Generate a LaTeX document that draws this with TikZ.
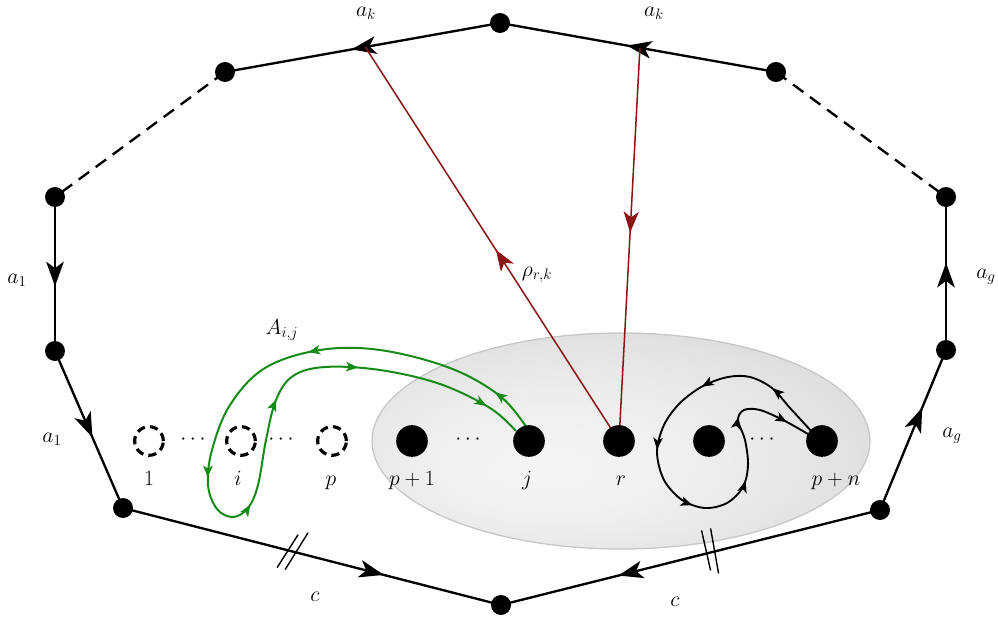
\documentclass[tikz,border=0pt]{standalone}
\usepackage{fix-cm}
\usetikzlibrary{arrows.meta,decorations.markings,calc}
\pgfdeclarelayer{back}
\pgfdeclarelayer{mid}
\pgfsetlayers{back,mid,main}
\definecolor{rdark}{RGB}{140,22,22}
\definecolor{gdark}{RGB}{22,138,22}
\pgfdeclareradialshading{ellsh}{\pgfpoint{-9bp}{-7bp}}{%
  color(0bp)=(gray!8); color(14bp)=(gray!13); color(26bp)=(gray!22); color(36bp)=(gray!32); color(50bp)=(gray!34)}
\tikzset{
  bgtip/.tip={Stealth[length=21pt,width=15pt,inset=5.5pt]},
  rdtip/.tip={Stealth[length=18pt,width=13pt,inset=5pt]},
  smtip/.tip={Stealth[length=10pt,width=8pt,inset=2.5pt]},
}
\begin{document}
\begin{tikzpicture}[x=0.03cm,y=-0.03cm,
  vtx/.style={circle,fill=black,inner sep=0pt,minimum size=0.6cm},
  pt/.style={circle,fill=black,inner sep=0pt,minimum size=0.95cm},
  hole/.style={circle,draw=black,dash pattern=on 7pt off 4.4pt,line width=2.7pt,inner sep=0pt,minimum size=0.86cm},
  lab/.style={font=\fontsize{18.5}{22}\selectfont,inner sep=0pt},
  edgeln/.style={line width=2pt,black},
  dashedge/.style={line width=2pt,black,dash pattern=on 11pt off 7pt},
  amark/.style={decoration={markings,mark=at position #1 with {\arrow{bgtip}}},postaction={decorate}},
  rmark/.style={decoration={markings,mark=at position #1 with {\arrow{rdtip}}},postaction={decorate}},
  redln/.style={line width=1.3pt,rdark},
  tickln/.style={line width=1.2pt,black},
]
\useasboundingbox (0,0) rectangle (998,620);
% polygon vertices
\node[vtx] (T) at (500,23) {};
\node[vtx] (TL) at (225,72) {};
\node[vtx] (TR) at (776,72) {};
\node[vtx] (L1) at (55,197) {};
\node[vtx] (R1) at (946,197) {};
\node[vtx] (L2) at (55,351) {};
\node[vtx] (R2) at (946,350) {};
\node[vtx] (BL) at (123,508) {};
\node[vtx] (BR) at (880,510) {};
\node[vtx] (B) at (501,605) {};
% punctures
\node[hole] (h1) at (149,441) {};
\node[hole] (hi) at (241,441) {};
\node[hole] (hp) at (332,441) {};
\node[pt] (q1) at (412,441) {};
\node[pt] (j) at (529,441) {};
\node[pt] (r) at (619,441) {};
\node[pt] (q) at (709,441) {};
\node[pt] (pn) at (822,441) {};
% dots
\node[lab] (d1) at (193,440) {$\cdots$};
\node[lab] (d2) at (281,440) {$\cdots$};
\node[lab] (d3) at (468,440) {$\cdots$};
\node[lab] (d4) at (762,440) {$\cdots$};
% point labels
\node[lab,anchor=base] (l1) at (149,485) {$1$};
\node[lab,anchor=base] (li) at (238,485) {$i$};
\node[lab,anchor=base] (lp) at (331,485) {$p$};
\node[lab,anchor=base] (lq1) at (412,485) {$p+1$};
\node[lab,anchor=base] (lj) at (527,485) {$j$};
\node[lab,anchor=base] (lr) at (621,485) {$r$};
\node[lab,anchor=base] (lpn) at (836,485) {$p+n$};
% edge labels
\node[lab] (e1) at (366,13) {$a_k$};
\node[lab] (e2) at (654,13) {$a_k$};
\node[lab] (e3) at (17,280) {$a_1$};
\node[lab] (e4) at (986,277) {$a_g$};
\node[lab] (e5) at (52,439) {$a_1$};
\node[lab] (e6) at (952,436) {$a_g$};
\node[lab] (e7) at (315,597) {$c$};
\node[lab] (e8) at (675,602) {$c$};
\node[lab] (e9) at (537,275) {$\rho_{r,k}$};
\node[lab] (e10) at (282,330) {$A_{i,j}$};

\begin{pgfonlayer}{back}
  \shade[shading=ellsh] (621,441) ellipse [x radius=7.47cm,y radius=3.24cm];
  \draw[gray!45,line width=1.1pt] (621,441) ellipse [x radius=7.47cm,y radius=3.24cm];
\end{pgfonlayer}

\begin{pgfonlayer}{mid}
  \draw[edgeln,amark=0.54] (T.center) -- (TL.center);
  \draw[edgeln,amark=0.54] (TR.center) -- (T.center);
  \draw[dashedge] (TL.center) -- (L1.center);
  \draw[dashedge] (TR.center) -- (R1.center);
  \draw[edgeln,amark=0.58] (L1.center) -- (L2.center);
  \draw[edgeln,amark=0.57] (R2.center) -- (R1.center);
  \draw[edgeln,amark=0.55] (L2.center) -- (BL.center);
  \draw[edgeln,amark=0.64] (BR.center) -- (R2.center);
  \draw[edgeln,amark=0.69] (BL.center) -- (B.center);
  \draw[edgeln,amark=0.69] (BR.center) -- (B.center);
  % double ticks
  \coordinate (k1) at ($(BL)!0.45!(B)$);
  \coordinate (k2) at ($(BR)!0.447!(B)$);
  \draw[tickln] ($(k1)+(-16,16)$) -- ($(k1)+(5,-17)$);
  \draw[tickln] ($(k1)+(-8,18)$) -- ($(k1)+(15,-19)$);
  \draw[tickln] ($(k2)+(-9,-22)$) -- ($(k2)+(0,18)$);
  \draw[tickln] ($(k2)+(0,-24)$) -- ($(k2)+(8,21)$);
  % red arcs
  \coordinate (m1) at ($(T)!0.49!(TL)$);
  \coordinate (m2) at ($(T)!0.507!(TR)$);
  \draw[redln,rmark=0.485] (r.center) -- (m1);
  \draw[redln,rmark=0.47] (m2) -- (r.center);
  % green loop A_{i,j}
  \draw[gdark,line width=1.7pt,
    decoration={markings,
      mark=at position 0.055 with {\arrow{smtip}},
      mark=at position 0.28 with {\arrow{smtip}},
      mark=at position 0.48 with {\arrow{smtip}},
      mark=at position 0.565 with {\arrow{smtip}},
      mark=at position 0.69 with {\arrow{smtip}},
      mark=at position 0.80 with {\arrow{smtip}},
      mark=at position 0.955 with {\arrow{smtip}}},
    postaction={decorate}]
    plot[smooth,tension=0.6] coordinates {(527,428) (500,396) (450,368) (380,350) (320,350) (265,368) (230,405) (212,450) (208,485) (217,509) (233,517) (248,508) (258,485) (266,440) (276,400) (293,376) (325,367) (380,370) (440,384) (490,408) (516,431)};
  % black loop around p+n
  \draw[black,line width=1.6pt,
    decoration={markings,
      mark=at position 0.12 with {\arrow{smtip}},
      mark=at position 0.27 with {\arrow{smtip}},
      mark=at position 0.43 with {\arrow{smtip}},
      mark=at position 0.57 with {\arrow{smtip}},
      mark=at position 0.70 with {\arrow{smtip}},
      mark=at position 0.83 with {\arrow{smtip}},
      mark=at position 0.94 with {\arrow{smtip}}},
    postaction={decorate}]
    plot[smooth,tension=0.55] coordinates {(813,433) (790,408) (772,388) (750,377) (728,377) (703,386) (680,403) (664,425) (657,452) (664,480) (682,500) (705,508) (727,503) (743,487) (748,465) (745,440) (738,420) (744,410) (760,410) (785,421) (813,437)};
\end{pgfonlayer}
\end{tikzpicture}
\end{document}
